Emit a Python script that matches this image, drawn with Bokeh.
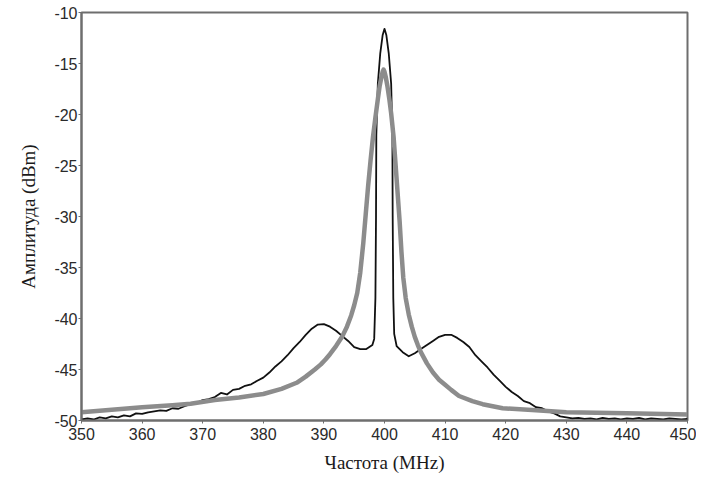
from bokeh.plotting import figure
from bokeh.models import Range1d, FixedTicker
from bokeh.embed import file_html
from bokeh.resources import INLINE

# black trace (measured spectrum)
freq_black = [350, 351, 352, 353, 354, 355, 356, 357, 358, 359, 360, 361, 362, 363, 364,
              365, 366, 367, 368, 369, 370, 371, 372, 373, 374, 375, 376, 377, 378, 379,
              380, 381, 382, 383, 384, 385, 386, 387, 388, 389, 390, 391, 392, 393, 394,
              395, 396, 397, 398, 398.3, 398.5, 398.6, 398.65, 398.9, 399.3, 399.7, 400.0,
              400.3, 400.7, 401.1, 401.3, 401.35, 401.45, 401.6, 402, 403, 404, 405, 406,
              407, 408, 409, 410, 411, 412, 413, 414, 415, 416, 417, 418, 419, 420, 421,
              422, 423, 424, 425, 426, 427, 428, 429, 430, 431, 432, 433, 434, 435, 436,
              437, 438, 439, 440, 441, 442, 443, 444, 445, 446, 447, 448, 449, 450]
amp_black = [-49.9, -49.8, -49.9, -49.7, -49.8, -49.6, -49.7, -49.5, -49.6, -49.3, -49.35, -49.2,
             -49.1, -49.0, -49.05, -48.8, -48.85, -48.6, -48.4, -48.3, -48.0, -47.9, -47.7, -47.3,
             -47.45, -47.0, -46.9, -46.6, -46.45, -46.1, -45.8, -45.3, -44.7, -44.2, -43.6, -42.9,
             -42.3, -41.6, -41.0, -40.6, -40.55, -40.8, -41.2, -41.7, -42.2, -42.8, -43.0, -43.0,
             -42.6, -42.0, -38.0, -30.0, -22.0, -17.0, -14.0, -12.2, -11.6, -12.2, -14.0, -17.0,
             -22.0, -30.0, -38.0, -41.5, -42.7, -43.3, -43.7, -43.4, -43.0, -42.6, -42.2, -41.8,
             -41.6, -41.6, -41.9, -42.3, -42.8, -43.6, -44.2, -44.8, -45.5, -46.1, -46.7, -47.2,
             -47.6, -48.1, -48.3, -48.7, -48.8, -49.1, -49.3, -49.6, -49.7, -49.8, -49.75, -49.85,
             -49.8, -49.9, -49.75, -49.85, -49.8, -49.9, -49.8, -49.85, -49.75, -49.9, -49.8,
             -49.85, -49.9, -49.8, -49.85, -49.9, -49.85]

# grey trace (model / reference spectrum)
freq_grey = [350, 355, 360, 365, 368, 372, 376, 380, 383, 385.5, 387, 388.5, 389.5, 390.3, 391,
             392, 393, 393.8, 394.5, 395.0, 395.5, 396.0, 396.5, 396.9, 397.3, 397.7, 398.1,
             398.5, 398.9, 399.2, 399.5, 399.7, 399.85, 400.0, 400.2, 400.5, 400.8, 401.1, 401.5,
             401.9, 402.2, 402.5, 402.8, 403.1, 403.5, 404.0, 404.5, 405.0, 405.5, 406.0, 407.0,
             408.0, 409.0, 410.0, 411.0, 412.3, 414.5, 416.2, 419.5, 425, 430, 440, 450]
amp_grey = [-49.2, -48.95, -48.7, -48.5, -48.35, -48.0, -47.75, -47.4, -46.9, -46.3, -45.7, -45.0,
            -44.5, -44.0, -43.5, -42.7, -41.8, -40.8, -39.7, -38.7, -37.5, -35.5, -32.6, -29.8,
            -27.0, -24.5, -22.2, -20.3, -18.5, -17.2, -16.3, -15.8, -15.6, -15.8, -16.3, -17.3,
            -18.5, -19.9, -22.2, -25.5, -28.0, -30.5, -33.5, -36.0, -38.0, -39.6, -40.8, -41.8,
            -42.6, -43.3, -44.4, -45.3, -46.0, -46.5, -47.0, -47.6, -48.1, -48.4, -48.8, -49.0,
            -49.2, -49.3, -49.4]

x_ticks = [350, 360, 370, 380, 390, 400, 410, 420, 430, 440, 450]
y_ticks = [-50, -45, -40, -35, -30, -25, -20, -15, -10]
y_tick_labels = ["-50", "-45", "-40", "-35", "-30", "-25", "-20", "-15", "-10"]

p = figure(width=696, height=476, output_backend="svg", toolbar_location=None,
           x_range=Range1d(350, 450), y_range=Range1d(-50, -10),
           min_border_left=81, min_border_right=9, min_border_top=12, min_border_bottom=56)

p.line(freq_black, amp_black, line_color="#111111", line_width=1.8, line_join="round")
p.line(freq_grey, amp_grey, line_color="#8c8c8c", line_width=4.5, line_join="round")

p.xgrid.visible = False
p.ygrid.visible = False
p.outline_line_color = "#6e6e6e"
p.outline_line_width = 2
p.background_fill_color = "white"
p.border_fill_color = "white"

for ax in (p.xaxis[0], p.yaxis[0]):
    ax.axis_line_color = "#6e6e6e"
    ax.axis_line_width = 2
    ax.major_tick_line_color = "#6e6e6e"
    ax.major_tick_out = 3
    ax.major_tick_in = 0
    ax.minor_tick_line_color = None
    ax.major_label_text_font = "Liberation Sans"
    ax.major_label_text_font_size = "16px"
    ax.major_label_text_color = "#2a2a2a"
    ax.axis_label_text_font = "Liberation Serif"
    ax.axis_label_text_font_size = "19px"
    ax.axis_label_text_font_style = "normal"
    ax.axis_label_text_color = "#1a1a1a"

p.xaxis.ticker = FixedTicker(ticks=x_ticks)
p.yaxis.ticker = FixedTicker(ticks=y_ticks)
p.yaxis.major_label_overrides = {t: s for t, s in zip(y_ticks, y_tick_labels)}
p.xaxis.major_label_standoff = 4
p.yaxis.major_label_standoff = 1
p.xaxis.axis_label = "Частота (MHz)"
p.yaxis.axis_label = "Амплитуда (dBm)"
p.xaxis.axis_label_standoff = 9
p.yaxis.axis_label_standoff = 12

open("out.html", "w").write(file_html(p, INLINE))
